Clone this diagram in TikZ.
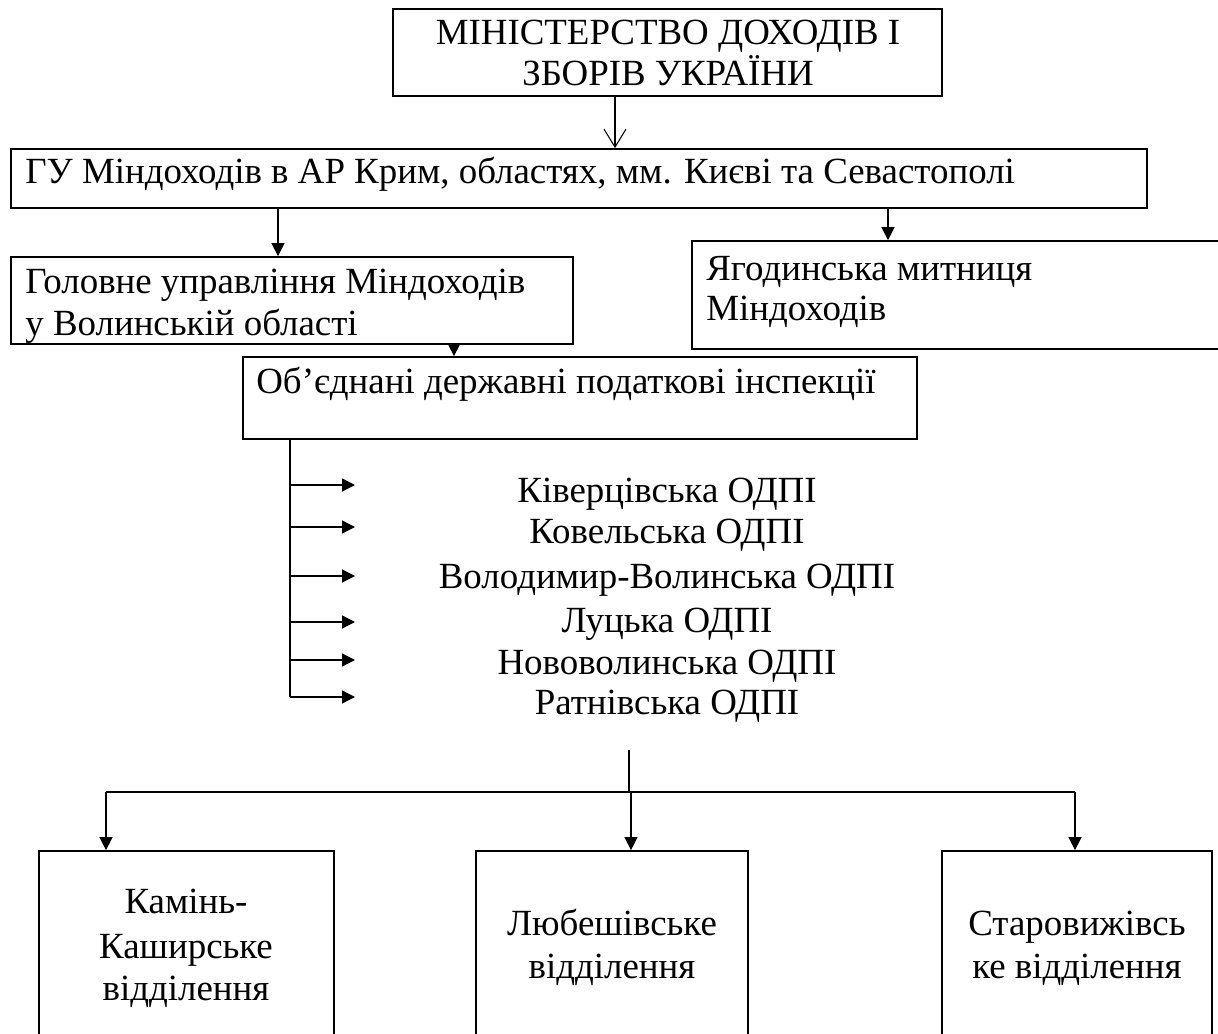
\documentclass[tikz,border=0pt]{standalone}
\usepackage{fontspec}
\setmainfont{Liberation Serif}
\usetikzlibrary{arrows.meta,fit}

\begin{document}
\begin{tikzpicture}
  [x=0.02cm,y=-0.02cm,
   box/.style={draw,line width=1pt,inner sep=0pt},
   txt/.style={inner sep=0pt,font=\fontsize{21}{24}\selectfont},
   tip/.style={-{Triangle[length=.26cm,width=.26cm]},line width=.8pt},
   vee/.style={-{Straight Barb[length=.36cm,width=.44cm]},line width=.6pt}]
  \useasboundingbox (0,0) rectangle (1218,1034);
  \clip (0,0) rectangle (1218,1034);

  \node (mdz)[box,fit={(393,9) (942,96)}] {};
  \node (gu)[box,fit={(11,149) (1147,208)}] {};
  \node (vol)[box,fit={(11,257) (573,344)}] {};
  \node (yag)[box,fit={(692,241) (1230,349)}] {};
  \node (odpi)[box,fit={(243,357) (917,439)}] {};
  \node (b1)[box,fit={(39,851) (334,1060)}] {};
  \node (b2)[box,fit={(476,851) (748,1060)}] {};
  \node (b3)[box,fit={(942,851) (1212,1060)}] {};

  \node (mdz1)[txt,anchor=base] at (668,45) {МІНІСТЕРСТВО ДОХОДІВ І};
  \node (mdz2)[txt,anchor=base] at (668,86) {ЗБОРІВ УКРАЇНИ};
  \node (gut)[txt,anchor=base west] at (25,184) {ГУ Міндоходів в АР Крим, областях, мм. Києві та Севастополі};
  \node (vol1)[txt,anchor=base west] at (25,293) {Головне управління Міндоходів};
  \node (vol2)[txt,anchor=base west] at (25,335) {у Волинській області};
  \node (yag1)[txt,anchor=base west] at (706,280) {Ягодинська митниця};
  \node (yag2)[txt,anchor=base west] at (706,320) {Міндоходів};
  \node (odpit)[txt,anchor=base west] at (256,393) {Об’єднані державні податкові інспекції};

  \node (b11)[txt,anchor=base] at (186,913) {Камінь-};
  \node (b12)[txt,anchor=base] at (186,958) {Каширське};
  \node (b13)[txt,anchor=base] at (186,1000) {відділення};
  \node (b21)[txt,anchor=base] at (612,935) {Любешівське};
  \node (b22)[txt,anchor=base] at (612,978) {відділення};
  \node (b31)[txt,anchor=base] at (1077,935) {Старовижівсь};
  \node (b32)[txt,anchor=base] at (1077,978) {ке відділення};

  \coordinate (c0) at (615,0);
  \coordinate (c1) at (278,0);
  \coordinate (c2) at (888,0);
  \coordinate (c3) at (454,0);
  \draw[vee] (mdz.south -| c0) -- (gu.north -| c0);
  \foreach \from/\to/\c in {gu/vol/c1, gu/yag/c2, vol/odpi/c3}
    \draw[tip] (\from.south -| \c) -- (\to.north -| \c);

  \coordinate (sp) at (290,697);
  \draw[line width=.6pt] (sp |- odpi.south) -- (sp);
  \foreach \i/\y/\b/\name in {1/485/502/Ківерцівська ОДПІ, 2/527/543/Ковельська ОДПІ,
      3/576/588/Володимир-Волинська ОДПІ, 4/622/632/Луцька ОДПІ,
      5/660/674/Нововолинська ОДПІ, 6/697/714/Ратнівська ОДПІ}
  {
    \coordinate (a\i) at (355,\y);
    \draw[tip] (sp |- a\i) -- (a\i);
    \node (k\i)[txt,anchor=base] at (667,\b) {\name};
  }

  \coordinate (br) at (629,750);
  \coordinate (hb) at (629,792);
  \coordinate (h1) at (106,792);
  \coordinate (h2) at (631,792);
  \coordinate (h3) at (1075,792);
  \draw[line width=.6pt] (br) -- (hb);
  \draw[line width=1pt] (h1) -- (h3);
  \foreach \i in {1,2,3}
    \draw[tip] (h\i) -- (h\i |- b\i.north);

\end{tikzpicture}
\end{document}
